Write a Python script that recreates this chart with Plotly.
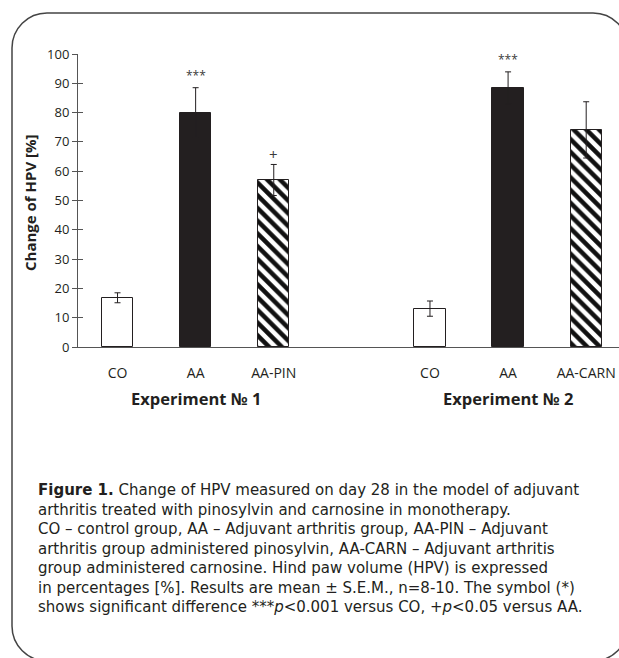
import plotly.graph_objects as go

# ---- data ----
experiments = ["Experiment № 1", "Experiment № 2"]
groups_exp1 = ["CO", "AA", "AA-PIN"]
groups_exp2 = ["CO", "AA", "AA-CARN"]
means_exp1 = [16.8, 80.0, 57.0]
sem_exp1 = [1.7, 8.5, 5.3]
means_exp2 = [13.1, 88.5, 74.1]
sem_exp2 = [2.6, 5.4, 9.6]
sig_exp1 = ["", "***", "+"]
sig_exp2 = ["", "***", ""]

caption_lines = [
    "<b>Figure 1.</b> Change of HPV measured on day 28 in the model of adjuvant",
    "arthritis treated with pinosylvin and carnosine in monotherapy.",
    "CO – control group, AA – Adjuvant arthritis group, AA-PIN – Adjuvant",
    "arthritis group administered pinosylvin, AA-CARN – Adjuvant arthritis",
    "group administered carnosine. Hind paw volume (HPV) is expressed",
    "in percentages [%]. Results are mean ± S.E.M., n=8-10. The symbol (*)",
    "shows significant difference ***<i>p</i>&lt;0.001 versus CO, +<i>p</i>&lt;0.05 versus AA.",
]

# ---- layout geometry ----
W, H = 619, 658
ML, MR, MT, MB = 78, 0, 54, 311
PW, PH = W - ML - MR, H - MT - MB
X0, X1 = -0.506, 6.42

def px(xp):
    return (xp - ML) / PW

def py(yp):
    return (H - MB - yp) / PH

all_groups = [groups_exp1, groups_exp2]
all_means = [means_exp1, means_exp2]
all_sem = [sem_exp1, sem_exp2]
all_sig = [sig_exp1, sig_exp2]

fills = ["white", "#231f20", "white"]
patterns = ["", "", "\\"]

fig = go.Figure()
tickvals, ticktext = [], []
annotations = []
for g, (grp, mu, se, sg) in enumerate(zip(all_groups, all_means, all_sem, all_sig)):
    xs = [g * 4 + i for i in range(len(grp))]
    tickvals += xs
    ticktext += grp
    for i in range(len(grp)):
        fig.add_trace(go.Bar(
            x=[xs[i]], y=[mu[i]], width=0.4,
            marker=dict(color=fills[i], line=dict(color="#231f20", width=1),
                        pattern=dict(shape=patterns[i], fgcolor="#111111",
                                     fgopacity=1, bgcolor="white", size=9,
                                     solidity=0.5)),
            error_y=dict(type="data", array=[se[i]], color="#231f20",
                         thickness=1, width=3),
            showlegend=False, hoverinfo="skip"))
        if sg[i]:
            annotations.append(dict(
                x=xs[i], y=mu[i] + se[i] + (4.3 if sg[i] == "***" else 3.6),
                xref="x", yref="y", text=sg[i], showarrow=False,
                font=dict(size=12 if sg[i] == "***" else 15, color="#3a3a3a",
                          family="Open Sans"),
                xanchor="center", yanchor="middle"))
    annotations.append(dict(
        x=xs[1], y=py(398), xref="x", yref="paper",
        text="<b>" + experiments[g] + "</b>", showarrow=False,
        font=dict(size=16.5, color="#231f20", family="Open Sans"),
        xanchor="center", yanchor="middle"))

# y axis title
annotations.append(dict(
    x=px(30), y=py(203), xref="paper", yref="paper",
    text="<b>Change of HPV [%]</b>", textangle=-90, showarrow=False,
    font=dict(size=15, color="#231f20", family="Open Sans"),
    xanchor="center", yanchor="middle"))

# caption (one block, line height 1.3em)
annotations.append(dict(
    x=px(37), y=py(548), xref="paper", yref="paper",
    text="<br>".join(caption_lines), showarrow=False, align="left",
    font=dict(size=15, color="#231f20", family="DejaVu Sans"),
    xanchor="left", yanchor="middle", borderpad=0))

# rounded frame
L, T, R, B, r = 12, 13, 628, 661, 35
k = 0.5523 * r
path = (
    f"M {px(L)},{py(B - r)} "
    f"L {px(L)},{py(T + r)} "
    f"C {px(L)},{py(T + r - k)} {px(L + r - k)},{py(T)} {px(L + r)},{py(T)} "
    f"L {px(R - r)},{py(T)} "
    f"C {px(R - r + k)},{py(T)} {px(R)},{py(T + r - k)} {px(R)},{py(T + r)} "
    f"L {px(R)},{py(B - r)} "
    f"C {px(R)},{py(B - r + k)} {px(R - r + k)},{py(B)} {px(R - r)},{py(B)} "
    f"L {px(L + r)},{py(B)} "
    f"C {px(L + r - k)},{py(B)} {px(L)},{py(B - r + k)} {px(L)},{py(B - r)} Z"
)
shapes = [dict(type="path", xref="paper", yref="paper", path=path,
               line=dict(color="#444444", width=1.5), fillcolor="rgba(0,0,0,0)",
               layer="above")]

fig.update_layout(
    width=W, height=H,
    margin=dict(l=ML, r=MR, t=MT, b=MB, pad=0),
    paper_bgcolor="white", plot_bgcolor="white",
    bargap=0, barmode="overlay",
    xaxis=dict(range=[X0, X1], tickvals=tickvals, ticktext=ticktext,
               showgrid=False, zeroline=False, showline=True,
               linecolor="#555555", linewidth=1, ticks="", ticklabelstandoff=13,
               tickfont=dict(size=14, color="#231f20", family="Open Sans"),
               fixedrange=True),
    yaxis=dict(range=[0, 100], tickvals=list(range(0, 101, 10)),
               showgrid=False, zeroline=False, showline=True,
               linecolor="#555555", linewidth=1, ticks="outside", ticklen=5,
               tickcolor="#555555", tickwidth=1,
               tickfont=dict(size=13, color="#231f20", family="Open Sans"),
               fixedrange=True),
    yaxis2=dict(range=[0, 100], tickvals=list(range(0, 101, 10)),
                overlaying="y", side="left", anchor="x",
                showgrid=False, zeroline=False, showline=False,
                ticks="inside", ticklen=5, tickcolor="#555555", tickwidth=1,
                showticklabels=False, fixedrange=True),
    annotations=annotations, shapes=shapes,
    font=dict(family="Open Sans", color="#231f20"),
)
fig.add_trace(go.Scatter(x=[X0], y=[0], yaxis="y2", mode="markers",
                         marker=dict(opacity=0), showlegend=False,
                         hoverinfo="skip"))

fig.write_html(
    "out.html",
    config={"displayModeBar": False},
    post_script="document.body.style.margin='0';document.body.style.overflow='hidden';",
)
